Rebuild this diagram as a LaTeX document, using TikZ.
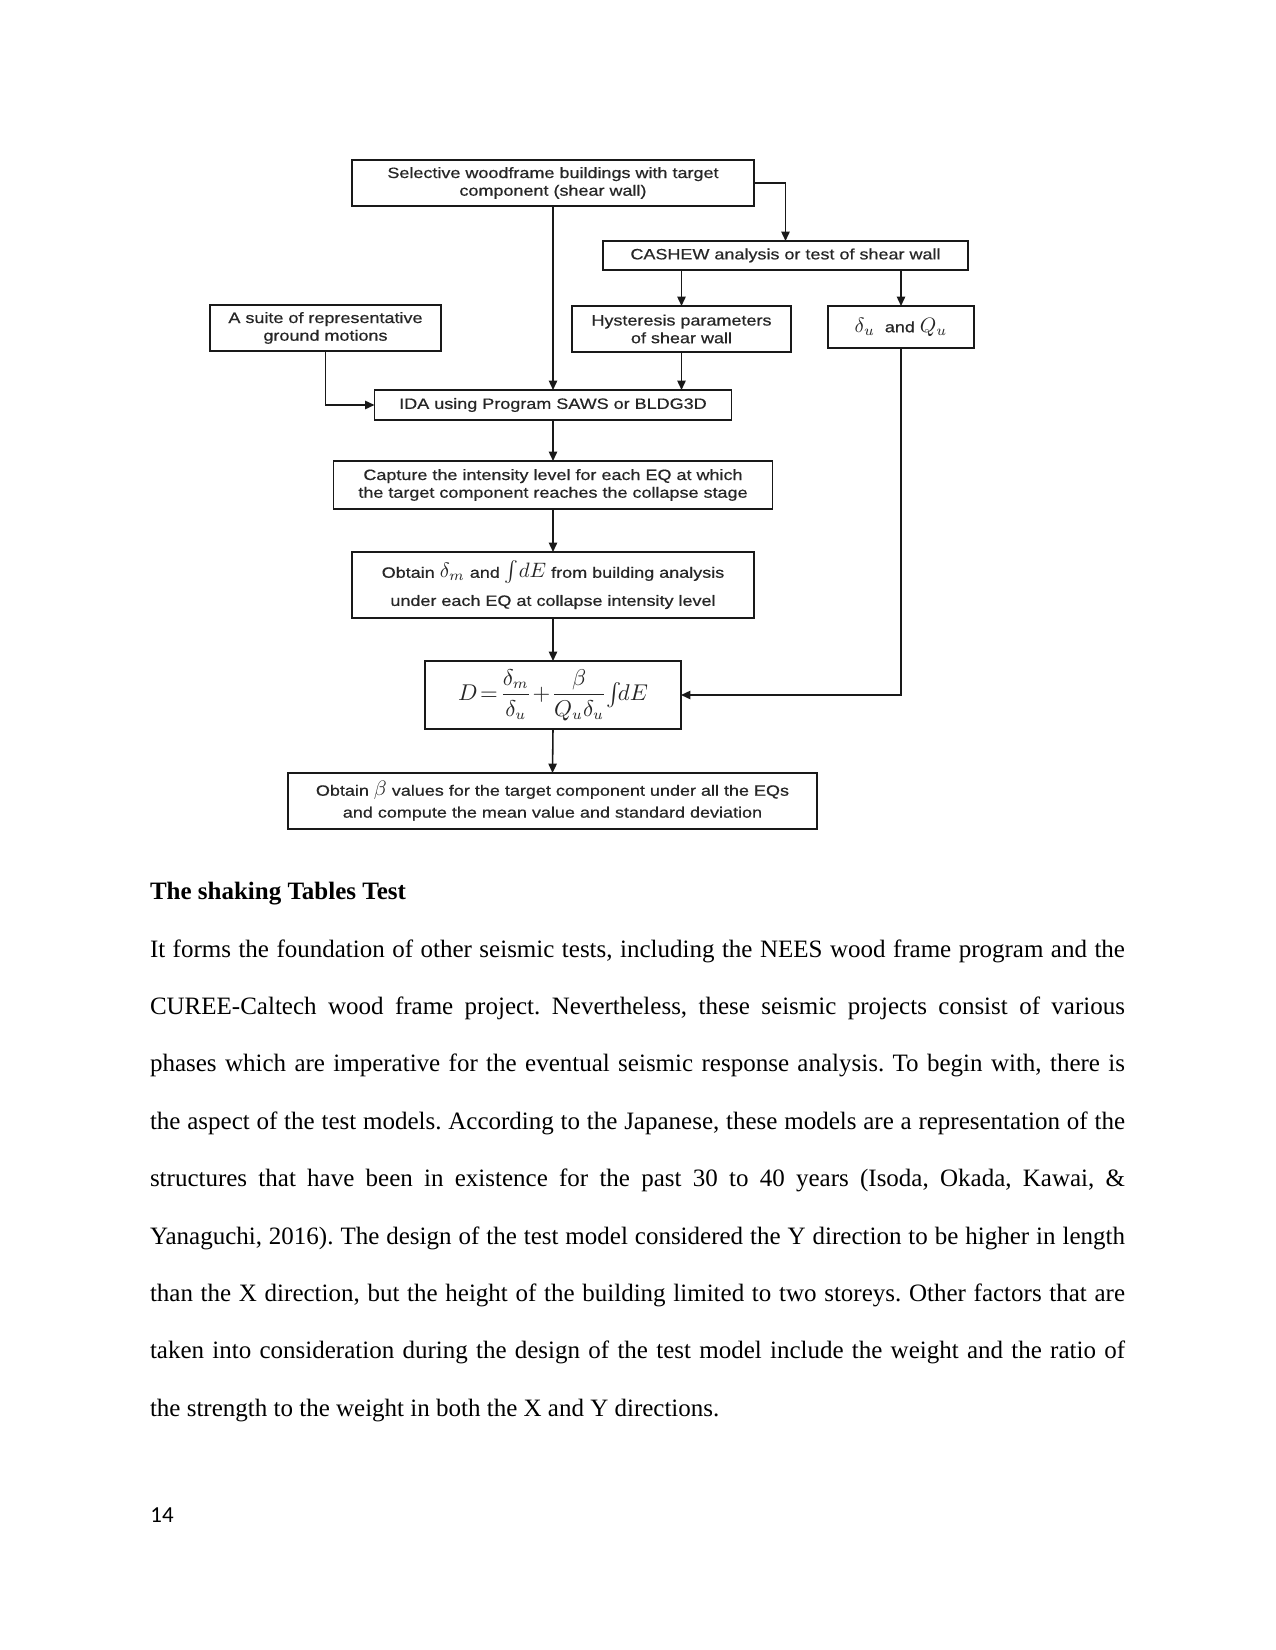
\documentclass[tikz,border=0pt]{standalone}
\usepackage{amsmath}
\usepackage{fontspec}
\setmainfont{Liberation Serif}
\newfontfamily\flowfont[FakeStretch=1.2,FakeBold=0.6]{Liberation Sans}
\newfontfamily\pagenumfont{Carlito}
\usetikzlibrary{arrows.meta}
\newcommand\mth[1]{{\fontsize{10}{10}\selectfont$#1$}}
\frenchspacing
\begin{document}
\begin{tikzpicture}[x=0.48pt,y=-0.48pt,
  box/.style={draw=black!90, line width=0.75pt, inner sep=0pt, outer sep=0pt, align=center,
    font=\flowfont\fontsize{7.2}{8.5}\selectfont, text=black!85},
  arr/.style={-{Triangle[length=4.5pt,width=4pt]}, line width=0.75pt, draw=black!90},
  bodyline/.style={anchor=base west, inner sep=0pt, outer sep=0pt, font=\fontsize{12}{14}\selectfont}]
\useasboundingbox (0,0) rectangle (1275,1650);
% ---------------- flowchart ----------------
\node[box, minimum width=192.96pt, minimum height=22.08pt] (sel) at (553,183)
  {Selective woodframe buildings with target\\component (shear wall)};
\node[box, minimum width=175.2pt, minimum height=13.92pt] (cash) at (785.5,255.5)
  {CASHEW analysis or test of shear wall};
\node[box, minimum width=110.88pt, minimum height=22.08pt] (suite) at (325.5,328)
  {A suite of representative\\ground motions};
\node[box, minimum width=105.12pt, minimum height=22.08pt] (hyst) at (681.5,329)
  {Hysteresis parameters\\of shear wall};
\node[box, minimum width=70.08pt, minimum height=20.16pt] (du) at (901,327)
  {\mth{\delta_u}\ \ and \mth{Q_u}};
\node[box, minimum width=171.36pt, minimum height=14.4pt] (ida) at (553,405)
  {IDA using Program SAWS or BLDG3D};
\node[box, minimum width=210.72pt, minimum height=23.04pt] (capt) at (553,485)
  {Capture the intensity level for each EQ at which\\the target component reaches the collapse stage};
\node[box, minimum width=192.96pt, minimum height=31.68pt] (obt) at (553,585)
  {Obtain \mth{\delta_m} and \mth{\int\! dE} from building analysis\\[5pt]under each EQ at collapse intensity level};
\node[box, minimum width=122.88pt, minimum height=32.64pt] (dbox) at (553,695)
  {{\fontsize{10.5}{10.5}\selectfont$\displaystyle D\!=\!\frac{\delta_m}{\delta_u}\!+\!\frac{\beta}{Q_u\delta_u}{\textstyle\int}\! dE$}};
\node[box, minimum width=253.92pt, minimum height=26.88pt] (beta) at (552.5,801)
  {Obtain \mth{\beta} values for the target component under all the EQs\\[2pt]and compute the mean value and standard deviation};
% connectors
\draw[arr] (sel.east) -| (cash.north);
\draw[arr] (sel.south) -- (ida.north);
\draw[arr] (hyst.north |- cash.south) -- (hyst.north);
\draw[arr] (du.north |- cash.south) -- (du.north);
\draw[arr] (hyst.south) -- (hyst.south |- ida.north);
\draw[arr] (suite.south) |- (ida.west);
\draw[arr] (ida.south) -- (capt.north);
\draw[arr] (capt.south) -- (obt.north);
\draw[arr] (obt.south) -- (dbox.north);
\draw[arr] (du.south) |- (dbox.east);
\draw[arr] (dbox.south) -- (beta.north);
% ---------------- body text ----------------
\node[bodyline, font=\bfseries\fontsize{12}{14}\selectfont] (head) at (150,899) {The shaking Tables Test};
\node[bodyline] (l1) at (150,957) {\makebox[468pt][s]{It forms the foundation of other seismic tests, including the NEES wood frame program and the}};
\node[bodyline] (l2) at (150,1014.4) {\makebox[468pt][s]{CUREE-Caltech wood frame project. Nevertheless, these seismic projects consist of various}};
\node[bodyline] (l3) at (150,1071.8) {\makebox[468pt][s]{phases which are imperative for the eventual seismic response analysis. To begin with, there is}};
\node[bodyline] (l4) at (150,1129.2) {\makebox[468pt][s]{the aspect of the test models. According to the Japanese, these models are a representation of the}};
\node[bodyline] (l5) at (150,1186.6) {\makebox[468pt][s]{structures that have been in existence for the past 30 to 40 years (Isoda, Okada, Kawai, \&}};
\node[bodyline] (l6) at (150,1244) {\makebox[468pt][s]{Yanaguchi, 2016). The design of the test model considered the Y direction to be higher in length}};
\node[bodyline] (l7) at (150,1301.4) {\makebox[468pt][s]{than the X direction, but the height of the building limited to two storeys. Other factors that are}};
\node[bodyline] (l8) at (150,1358.8) {\makebox[468pt][s]{taken into consideration during the design of the test model include the weight and the ratio of}};
\node[bodyline] (l9) at (150,1416.2) {the strength to the weight in both the X and Y directions.};
\node[anchor=base west, inner sep=0pt, font=\pagenumfont\fontsize{11}{13}\selectfont] (pnum) at (150,1522) {14};
\end{tikzpicture}
\end{document}
